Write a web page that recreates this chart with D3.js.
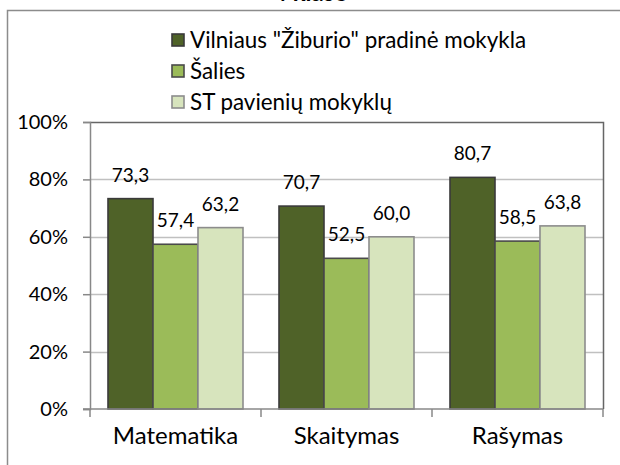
<!DOCTYPE html>
<html>
<head>
<meta charset="utf-8">
<script src="https://cdn.jsdelivr.net/npm/d3@7"></script>
<style>
  body { margin: 0; background: #fff; }
  svg { display: block; font-family: Lato, "Liberation Sans", sans-serif; }
</style>
</head>
<body>
<div id="chart"></div>
<script>
// chart data
const categories = ["Matematika", "Skaitymas", "Rašymas"];
const seriesNames = ['Vilniaus "Žiburio" pradinė mokykla', "Šalies", "ST pavienių mokyklų"];
const school = [73.3, 70.7, 80.7];
const country = [57.4, 52.5, 58.5];
const stSchools = [63.2, 60.0, 63.8];
const yTicks = [0, 20, 40, 60, 80, 100];
const title = "4 klasė";

const series = [school, country, stSchools];
const fills = ["#4f6228", "#9bbb59", "#d7e4bd"];
const strokes = ["#3a3a3a", "#4a4a4a", "#8c8c8c"];

const w = 620, h = 465;
const plot = { left: 90, right: 603, top: 122, bottom: 409 };

const svg = d3.select("#chart").append("svg")
  .attr("width", w)
  .attr("height", h);

svg.append("rect").attr("width", w).attr("height", h).attr("fill", "#fff");

// outer chart border (runs off the right and bottom edges)
svg.append("rect")
  .attr("x", 7.5).attr("y", 10.5)
  .attr("width", 800).attr("height", 800)
  .attr("fill", "none")
  .attr("stroke", "#8c8c8c")
  .attr("stroke-width", 1.5);

// title, mostly cut off at the top like in the original
svg.append("text")
  .attr("x", 310).attr("y", 1)
  .attr("text-anchor", "middle")
  .attr("font-size", 24)
  .attr("font-weight", "bold")
  .text(title);

const x0 = d3.scaleBand()
  .domain(categories)
  .range([plot.left, plot.right])
  .paddingInner(36 / 171)
  .paddingOuter(18 / 171);

const x1 = d3.scaleBand()
  .domain(d3.range(series.length))
  .range([0, x0.bandwidth()]);

const y = d3.scaleLinear()
  .domain([0, 100])
  .range([plot.bottom, plot.top]);

// gridlines
svg.append("g")
  .selectAll("line")
  .data(yTicks.filter(d => d > 0 && d < 100))
  .join("line")
  .attr("x1", plot.left).attr("x2", plot.right)
  .attr("y1", d => Math.round(y(d)) + 0.5)
  .attr("y2", d => Math.round(y(d)) + 0.5)
  .attr("stroke", "#c0c0c0")
  .attr("stroke-width", 1.5);

// plot area border top and right
svg.append("path")
  .attr("d", `M${plot.left},${plot.top + 0.5}H${plot.right + 0.5}V${plot.bottom}`)
  .attr("fill", "none")
  .attr("stroke", "#666")
  .attr("stroke-width", 1.5);

// bars
const groups = svg.append("g")
  .selectAll("g")
  .data(categories)
  .join("g")
  .attr("transform", d => `translate(${x0(d)},0)`);

groups.selectAll("rect")
  .data((d, ci) => series.map((s, si) => ({ si, v: s[ci] })))
  .join("rect")
  .attr("x", d => x1(d.si))
  .attr("y", d => y(d.v))
  .attr("width", x1.bandwidth())
  .attr("height", d => y(0) - y(d.v))
  .attr("fill", d => fills[d.si])
  .attr("stroke", d => strokes[d.si])
  .attr("stroke-width", 1.6);

groups.selectAll("text")
  .data((d, ci) => series.map((s, si) => ({ si, v: s[ci] })))
  .join("text")
  .attr("x", d => x1(d.si) + x1.bandwidth() / 2)
  .attr("y", d => y(d.v) - 17)
  .attr("text-anchor", "middle")
  .attr("font-size", 19)
  .attr("fill", "#000")
  .text(d => d.v.toFixed(1).replace(".", ","));

// y axis
const yAxis = svg.append("g")
  .attr("transform", `translate(${plot.left},0)`)
  .call(d3.axisLeft(y).tickValues(yTicks).tickSize(7).tickPadding(15).tickFormat(d => d + "%"));
yAxis.select(".domain").attr("stroke", "#888").attr("stroke-width", 1.5);
yAxis.selectAll(".tick line").attr("stroke", "#888").attr("stroke-width", 1.5);
yAxis.selectAll(".tick text")
  .attr("font-size", 20)
  .attr("font-family", "Lato, sans-serif")
  .attr("fill", "#000");

// x axis with ticks between categories
const xAxis = svg.append("g")
  .attr("transform", `translate(0,${plot.bottom})`);
xAxis.append("line")
  .attr("x1", plot.left - 7).attr("x2", plot.right)
  .attr("stroke", "#888").attr("stroke-width", 1.5);
const bounds = categories.map(c => x0(c) - 18).concat([plot.right]);
xAxis.selectAll(".sep")
  .data(bounds)
  .join("line")
  .attr("class", "sep")
  .attr("x1", d => d).attr("x2", d => d)
  .attr("y1", 0).attr("y2", 8)
  .attr("stroke", "#888").attr("stroke-width", 1.5);
xAxis.selectAll(".cat")
  .data(categories)
  .join("text")
  .attr("class", "cat")
  .attr("x", d => x0(d) + x0.bandwidth() / 2)
  .attr("y", 35)
  .attr("text-anchor", "middle")
  .attr("font-size", 24)
  .attr("fill", "#000")
  .text(d => d);

// legend
const legend = svg.append("g")
  .selectAll("g")
  .data(seriesNames)
  .join("g")
  .attr("transform", (d, i) => `translate(172,${40 + i * 31})`);

legend.append("rect")
  .attr("x", 0).attr("y", -6)
  .attr("width", 12).attr("height", 12)
  .attr("fill", (d, i) => fills[i])
  .attr("stroke", (d, i) => strokes[i])
  .attr("stroke-width", 1.6);

legend.append("text")
  .attr("x", 18).attr("y", 8)
  .attr("font-size", 22.4)
  .attr("fill", "#000")
  .text(d => d);
</script>
</body>
</html>
